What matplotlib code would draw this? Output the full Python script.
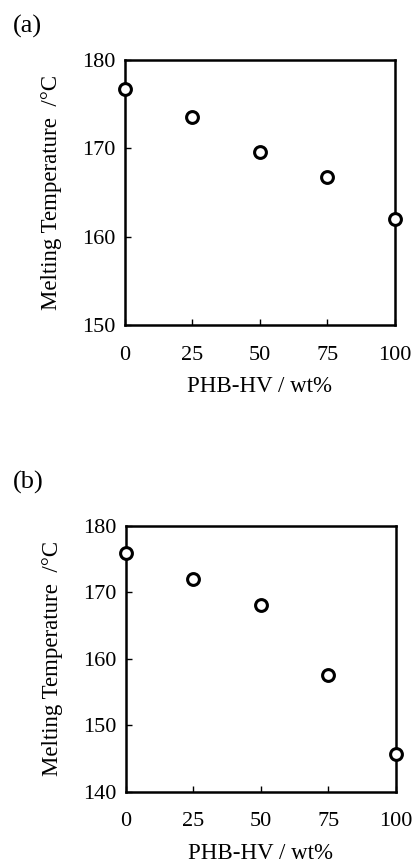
import numpy as np
import matplotlib
matplotlib.use('Agg')
import matplotlib.pyplot as plt

# PHB-HV content (wt%) and melting temperatures (deg C)
phb_hv = [0, 25, 50, 75, 100]
tm_a = [176.7, 173.6, 169.6, 166.7, 162.0]
tm_b = [175.9, 172.0, 168.0, 157.5, 145.6]

ylims = [(150, 180), (140, 180)]
yticks = [[150, 160, 170, 180], [140, 150, 160, 170, 180]]
panel_labels = ['(a)', '(b)']

plt.rcParams['font.family'] = ['Liberation Serif', 'DejaVu Serif']

fig = plt.figure(figsize=(4.15, 8.67), dpi=100)

# axes boxes in figure coords
boxes = [[0.3012, 0.6251, 0.6506, 0.3057],
         [0.3036, 0.0869, 0.6506, 0.3068]]
label_y = [0.970, 0.443]

for i, tm in enumerate([tm_a, tm_b]):
    ax = fig.add_axes(boxes[i])
    ax.plot(phb_hv, tm, 'o', markersize=8.5, markerfacecolor='white',
            markeredgecolor='black', markeredgewidth=2.2, clip_on=False, zorder=5)
    ax.set_xlim(0, 100)
    ax.set_ylim(*ylims[i])
    ax.set_xticks(phb_hv)
    ax.set_yticks(yticks[i])
    ax.tick_params(direction='in', length=4, width=1, labelsize=16)
    ax.tick_params(axis='x', pad=15)
    ax.tick_params(axis='y', pad=7)
    for sp in ax.spines.values():
        sp.set_linewidth(1.8)
    ax.set_xlabel('PHB-HV / wt%', fontsize=16.5, labelpad=8)
    ax.set_ylabel('Melting Temperature  /°C', fontsize=16.5, labelpad=14)
    fig.text(0.03, label_y[i], panel_labels[i], fontsize=19, va='center', ha='left')

fig.savefig('out.png', dpi=100)
